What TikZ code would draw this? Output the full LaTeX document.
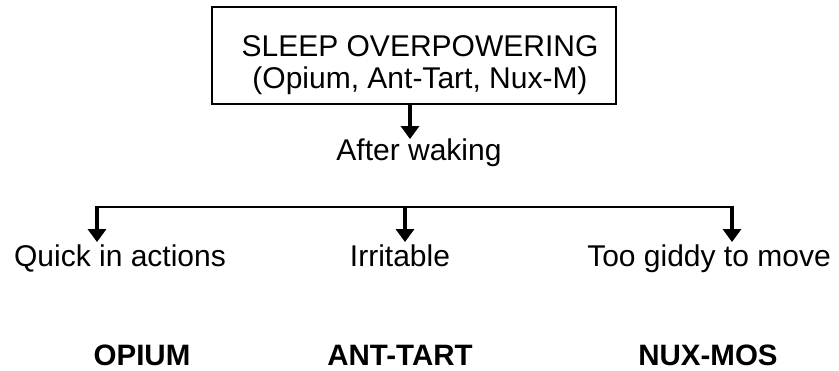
\documentclass[tikz,border=0pt]{standalone}
\usepackage{fontspec}
\setmainfont{Liberation Sans}
\usetikzlibrary{arrows.meta}
\begin{document}
\begin{tikzpicture}[x=1pt,y=-1pt,
  txt/.style={inner sep=0pt, font=\fontsize{30}{32}\selectfont},
  boldtxt/.style={inner sep=0pt, font=\fontsize{29.5}{32}\selectfont\bfseries},
  arr/.style={line width=4.5pt, -{Triangle[width=18pt,length=13pt]}},
  bus/.style={line width=2.5pt},
  frame/.style={draw, line width=1.8pt, minimum width=404pt, minimum height=97pt, inner sep=0pt}]
\useasboundingbox (0,0) rectangle (839,371);
\node[frame] (box) at (414,55.5) {};
\node[txt, align=center, anchor=north] (title) at (420,35) {SLEEP OVERPOWERING\\(Opium, Ant-Tart, Nux-M)};
\coordinate (ax) at (410,0);
\node[txt, anchor=base] (after) at (419,161) {After waking};
\draw[arr] (box.south -| ax) -- (after.north -| ax);
\coordinate (bl) at (97,207);
\coordinate (bm) at (405,207);
\coordinate (br) at (732,207);
\draw[bus] (bl) -- (br);
\node[txt, anchor=base] (q) at (120,267) {Quick in actions};
\node[txt, anchor=base] (i) at (400,267) {Irritable};
\node[txt, anchor=base] (t) at (709,267) {Too giddy to move};
\draw[arr, shorten >=3pt] ([yshift=1.25pt]bl) -- (bl |- q.north);
\draw[arr, shorten >=3pt] ([yshift=1.25pt]bm) -- (bm |- q.north);
\draw[arr, shorten >=3pt] ([yshift=1.25pt]br) -- (br |- q.north);
\node[boldtxt, anchor=base] (o) at (142,366) {OPIUM};
\node[boldtxt, anchor=base] (a) at (400,366) {ANT-TART};
\node[boldtxt, anchor=base] (n) at (708,366) {NUX-MOS};
\end{tikzpicture}
\end{document}
